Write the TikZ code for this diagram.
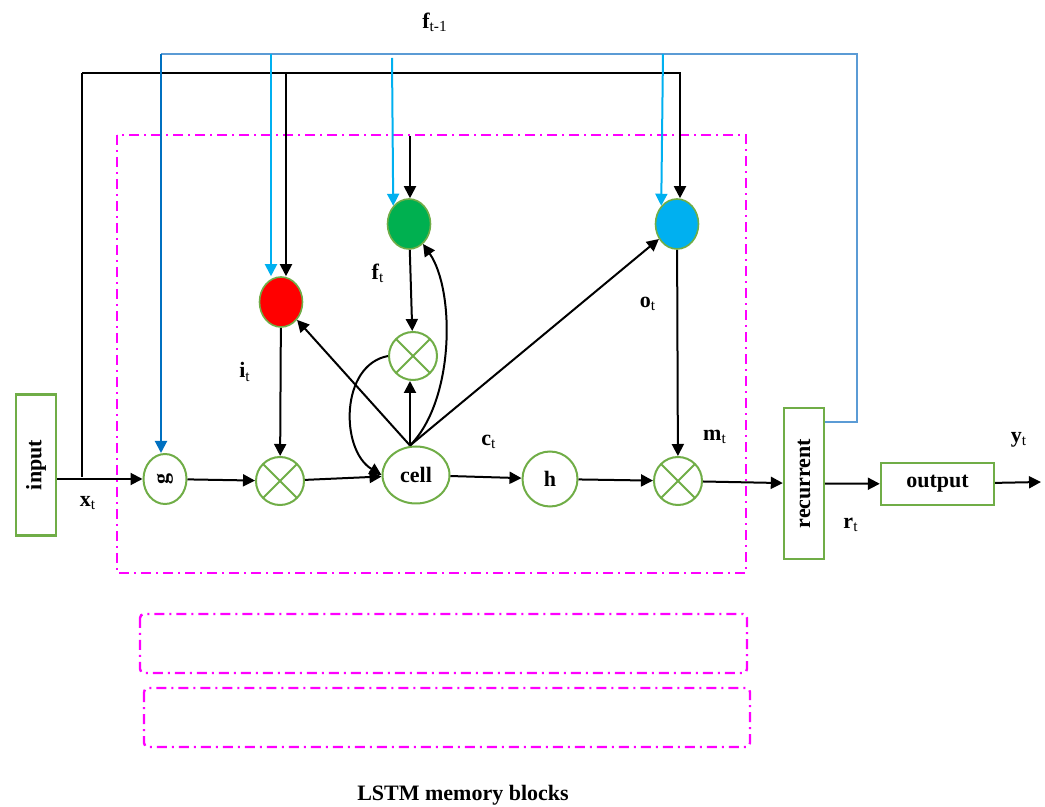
\documentclass[tikz,border=0pt]{standalone}
\usepackage{fontspec}
\setmainfont{Liberation Serif}
\usetikzlibrary{arrows.meta,shapes.geometric}
\definecolor{cellgreen}{RGB}{112,173,71}
\definecolor{gatered}{RGB}{255,0,0}
\definecolor{gategreen}{RGB}{0,176,80}
\definecolor{gateblue}{RGB}{0,176,240}
\definecolor{loopblue}{RGB}{91,155,213}
\definecolor{feedblue}{RGB}{0,112,192}
\definecolor{blockpink}{RGB}{255,0,255}
\tikzset{
  arr/.style={-{Triangle[length=6pt,width=6pt]}},
  gate/.style={ellipse, draw=cellgreen, line width=0.8pt, minimum width=21.5pt, minimum height=25pt, inner sep=0pt},
  unit/.style={circle, draw=cellgreen, line width=1pt, inner sep=0pt},
  mult/.style={circle, draw=cellgreen, line width=1pt, minimum size=24pt, inner sep=0pt,
    path picture={\draw[cellgreen, line width=1pt]
      (path picture bounding box.north west) -- (path picture bounding box.south east)
      (path picture bounding box.north east) -- (path picture bounding box.south west);}},
  block/.style={draw=cellgreen, line width=1.2pt, inner sep=0pt},
  memblock/.style={draw=blockpink, line width=1.2pt, dash pattern=on 5pt off 2.5pt on 1pt off 2.5pt},
  lbl/.style={inner sep=1pt}
}
\begin{document}
\begin{tikzpicture}[x=0.5pt, y=-0.5pt, line width=1pt, font=\bfseries\fontsize{11}{13}\selectfont]
\useasboundingbox (0,0) rectangle (1045,807);

% Memory blocks
\draw[memblock] (117,135) rectangle (746,573);
\draw[memblock, rounded corners=2pt] (140,614) rectangle (747,673);
\draw[memblock, rounded corners=2pt] (144,688) rectangle (750,747);

% Units
\node[block, minimum width=20pt, minimum height=70.5pt] (input) at (36,465) {\rotatebox{90}{input}};
\node[gate, line width=1pt] (g) at (165,479) {\rotatebox{90}{g}};
\node[mult] (m1) at (280,481) {};
\node[gate, fill=gatered] (i) at (281,302) {};
\node[gate, fill=gategreen] (f) at (409,224) {};
\node[mult] (m2) at (413,356) {};
\node[gate, line width=1pt, minimum width=33.5pt, minimum height=28.5pt] (cell) at (416,475) {cell};
\node[gate, fill=gateblue] (o) at (677,224) {};
\node[unit, minimum size=27.5pt] (h) at (550,479) {h};
\node[mult] (m3) at (678,481) {};
\node[block, minimum width=20pt, minimum height=75.5pt] (rec) at (804,483.5) {\rotatebox{90}{recurrent}};
\node[block, minimum width=56.5pt, minimum height=21pt] (out) at (937.5,484) {output};

\coordinate (xin) at (82,477);
\coordinate (ktop) at (82,73);
\coordinate (ki) at (286,73);
\coordinate (kf) at (410,136);
\coordinate (btop) at (161,54);
\coordinate (bi) at (271,54);
\coordinate (bf) at (392,58);
\coordinate (bo) at (663,54);
\coordinate (bright) at (857,54);
\coordinate (rloop) at (857,422);
\coordinate (ctop) at ([xshift=-3pt]cell.north);
\coordinate (yout) at (1041,482);

% Input feed
\draw[arr] (input.east |- g.west) -- (g.west);
\draw (xin) -- (ktop);
\draw[arr] (ktop) -| ([xshift=1.5pt]o.north);
\draw[arr] (ki) -- (ki |- i.north);
\draw[arr] (kf) -- (kf |- f.north);

% Recurrent loop
\draw[loopblue, line width=0.8pt] (rloop -| rec.east) -- (rloop) -- (bright) -- (btop);
\draw[feedblue, arr] (btop) -- (btop |- g.north);
\draw[gateblue, arr] (bi) -- (bi |- i.north);
\draw[gateblue, arr] (bf) -- (f.north west);
\draw[gateblue, arr] (bo) -- (o.north west);

% Main path
\draw[arr] (g) -- (m1);
\draw[arr] (m1) -- (cell);
\draw[arr] (cell) -- (h);
\draw[arr] (h) -- (m3);
\draw[arr] (m3) -- (rec);
\draw[arr] (rec) -- (out);
\draw[arr] (out) -- (yout);

% Gates
\draw[arr] (i) -- (m1);
\draw[arr] (f) -- (m2);
\draw[arr] (o) -- (m3);
\draw[arr] (ctop) -- (ctop |- m2.south);
\draw[arr] (ctop) -- (i);
\draw[arr] (ctop) -- (o);
\draw[arr] (ctop) .. controls (455,400) and (455,290) .. (f.-55);
\draw[arr] (m2.west) .. controls (340,365) and (340,450) .. (cell.west);

% Labels
\node[lbl] (lfp) at (435,22) {f\textsubscript{\mdseries t-1}};
\node[lbl] (lf) at (378,273) {f\textsubscript{\mdseries t}};
\node[lbl] (li) at (245,372) {i\textsubscript{\mdseries t}};
\node[lbl] (lo) at (648,304) {o\textsubscript{\mdseries t}};
\node[lbl] (lc) at (489,442) {c\textsubscript{\mdseries t}};
\node[lbl] (lm) at (715,437) {m\textsubscript{\mdseries t}};
\node[lbl] (lx) at (88,503) {x\textsubscript{\mdseries t}};
\node[lbl] (ly) at (1019,440) {y\textsubscript{\mdseries t}};
\node[lbl] (lr) at (851,525) {r\textsubscript{\mdseries t}};
\node (title) at (463,795) {LSTM memory blocks};
\end{tikzpicture}
\end{document}
